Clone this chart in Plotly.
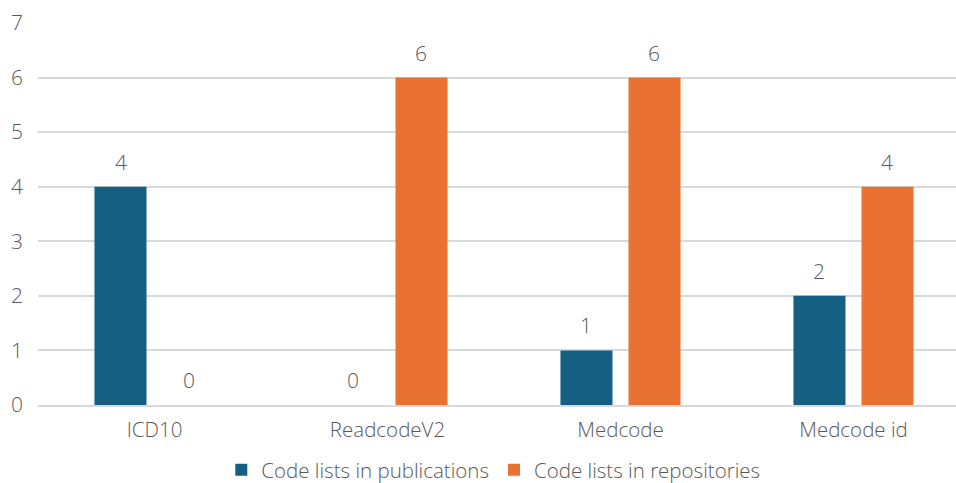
import plotly.graph_objects as go

categories = ["ICD10", "ReadcodeV2", "Medcode", "Medcode id"]
publications = [4, 0, 1, 2]
repositories = [0, 6, 6, 4]
series_names = ["Code lists in publications", "Code lists in repositories"]
colors = ["#156082", "#E97132"]

FONT = "Open Sans, DejaVu Sans, sans-serif"
TXT = "#595959"
W = 300

fig = go.Figure()
for name, vals, col in zip(series_names, [publications, repositories], colors):
    fig.add_trace(go.Bar(x=categories, y=vals, name=name, marker_color=col,
                         marker_line_width=0))

annotations = []
for vals, shift in [(publications, -34), (repositories, 34)]:
    for c, v in zip(categories, vals):
        annotations.append(dict(x=c, y=v, text=str(v), showarrow=False,
                                xshift=shift, yshift=25, yanchor="middle",
                                font=dict(size=21, color=TXT, family=FONT, weight=W)))

fig.update_layout(
    width=956, height=483,
    margin=dict(l=38, r=0, t=23, b=78, autoexpand=False),
    paper_bgcolor="white", plot_bgcolor="white",
    barmode="group", bargap=0.416, bargroupgap=0.235,
    font=dict(family=FONT, color=TXT, size=20, weight=W),
    annotations=annotations,
    legend=dict(orientation="h", xref="container", yref="container",
                x=0.516, xanchor="center", y=0.027, yanchor="middle",
                font=dict(size=20.5, color=TXT, family=FONT, weight=W), itemwidth=30,
                traceorder="normal"),
    xaxis=dict(range=[-0.5, 3.44], showgrid=False, showline=True, linecolor="#D9D9D9",
               linewidth=1.5, ticks="", ticklabelstandoff=6, automargin=False,
               tickfont=dict(size=20.5, color=TXT, family=FONT, weight=W)),
    yaxis=dict(range=[0, 7], dtick=1, showgrid=True, gridcolor="#D9D9D9", gridwidth=1.5,
               zeroline=False, ticks="", ticklabelstandoff=14, automargin=False,
               tickfont=dict(size=21, color=TXT, family=FONT, weight=W)),
)

fig.write_html("out.html")
